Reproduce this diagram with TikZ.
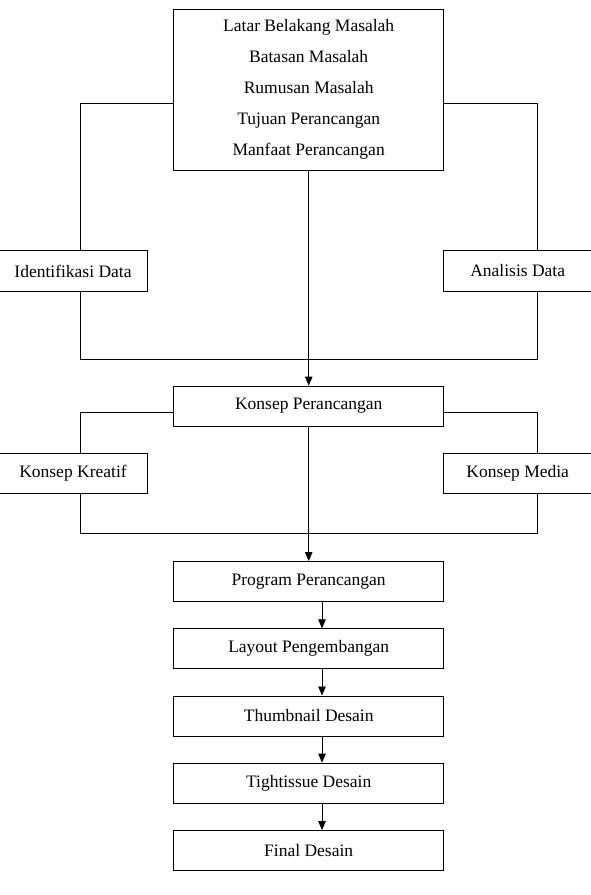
\documentclass[tikz,border=0pt]{standalone}
\usepackage{fontspec}
\setmainfont{Liberation Serif}
\usetikzlibrary{arrows.meta,calc}
\begin{document}
\begin{tikzpicture}[x=1pt,y=-1pt,
  box/.style={draw,line width=0.8pt,inner sep=0pt,font=\fontsize{17.5}{31}\selectfont,align=center},
  wide/.style={box,minimum width=270pt,minimum height=40pt},
  side/.style={box,minimum width=148.5pt,minimum height=40.5pt},
  conn/.style={line width=0.8pt},
  arr/.style={conn,-{Triangle[length=9pt,width=7.5pt]}}]
\useasboundingbox (0,0) rectangle (591,895);
\node[box,minimum width=270pt,minimum height=161.3pt] (top) at (308.7,89.6)
  {Latar Belakang Masalah\\Batasan Masalah\\Rumusan Masalah\\Tujuan Perancangan\\Manfaat Perancangan};
\node[side] (ident) at (73,271) {Identifikasi Data};
\node[side] (anal) at (517.7,271) {Analisis Data};
\node[wide] (kp) at (308.7,406) {Konsep Perancangan};
\node[side] (kk) at (73,473.3) {Konsep Kreatif};
\node[side] (km) at (517.7,473.3) {Konsep Media};
\node[wide] (prog) at (308.7,581.4) {Program Perancangan};
\node[wide] (lay) at (308.7,648.7) {Layout Pengembangan};
\node[wide] (thumb) at (308.7,715.9) {Thumbnail Desain};
\node[wide] (tight) at (308.7,783) {Tightissue Desain};
\node[wide] (final) at (308.7,850.5) {Final Desain};
% coordinates for branch lines
\coordinate (l1) at (80,103);
\coordinate (r1) at (537.5,103);
\coordinate (l2) at (80,359);
\coordinate (r2) at (537.5,359);
\coordinate (l3) at (80,412.7);
\coordinate (r3) at (537.5,412.7);
\coordinate (l4) at (80,533.7);
\coordinate (r4) at (537.5,533.7);
% upper loop
\draw[conn] (top.west |- l1) -- (l1) -- (l1 |- ident.north);
\draw[conn] (top.east |- r1) -- (r1) -- (r1 |- anal.north);
\draw[conn] (l1 |- ident.south) -- (l2) -- (r2) -- (r1 |- anal.south);
\draw[arr] (top.south) -- (kp.north);
% middle loop
\draw[conn] (kp.west |- l3) -- (l3) -- (l3 |- kk.north);
\draw[conn] (kp.east |- r3) -- (r3) -- (r3 |- km.north);
\draw[conn] (l3 |- kk.south) -- (l4) -- (r4) -- (r3 |- km.south);
\draw[arr] (kp.south) -- (prog.north);
% lower chain
\draw[arr] ([xshift=13.3pt]prog.south) -- ([xshift=13.3pt]lay.north);
\draw[arr] ([xshift=13.3pt]lay.south) -- ([xshift=13.3pt]thumb.north);
\draw[arr] ([xshift=13.3pt]thumb.south) -- ([xshift=13.3pt]tight.north);
\draw[arr] ([xshift=13.3pt]tight.south) -- ([xshift=13.3pt]final.north);
\end{tikzpicture}
\end{document}
